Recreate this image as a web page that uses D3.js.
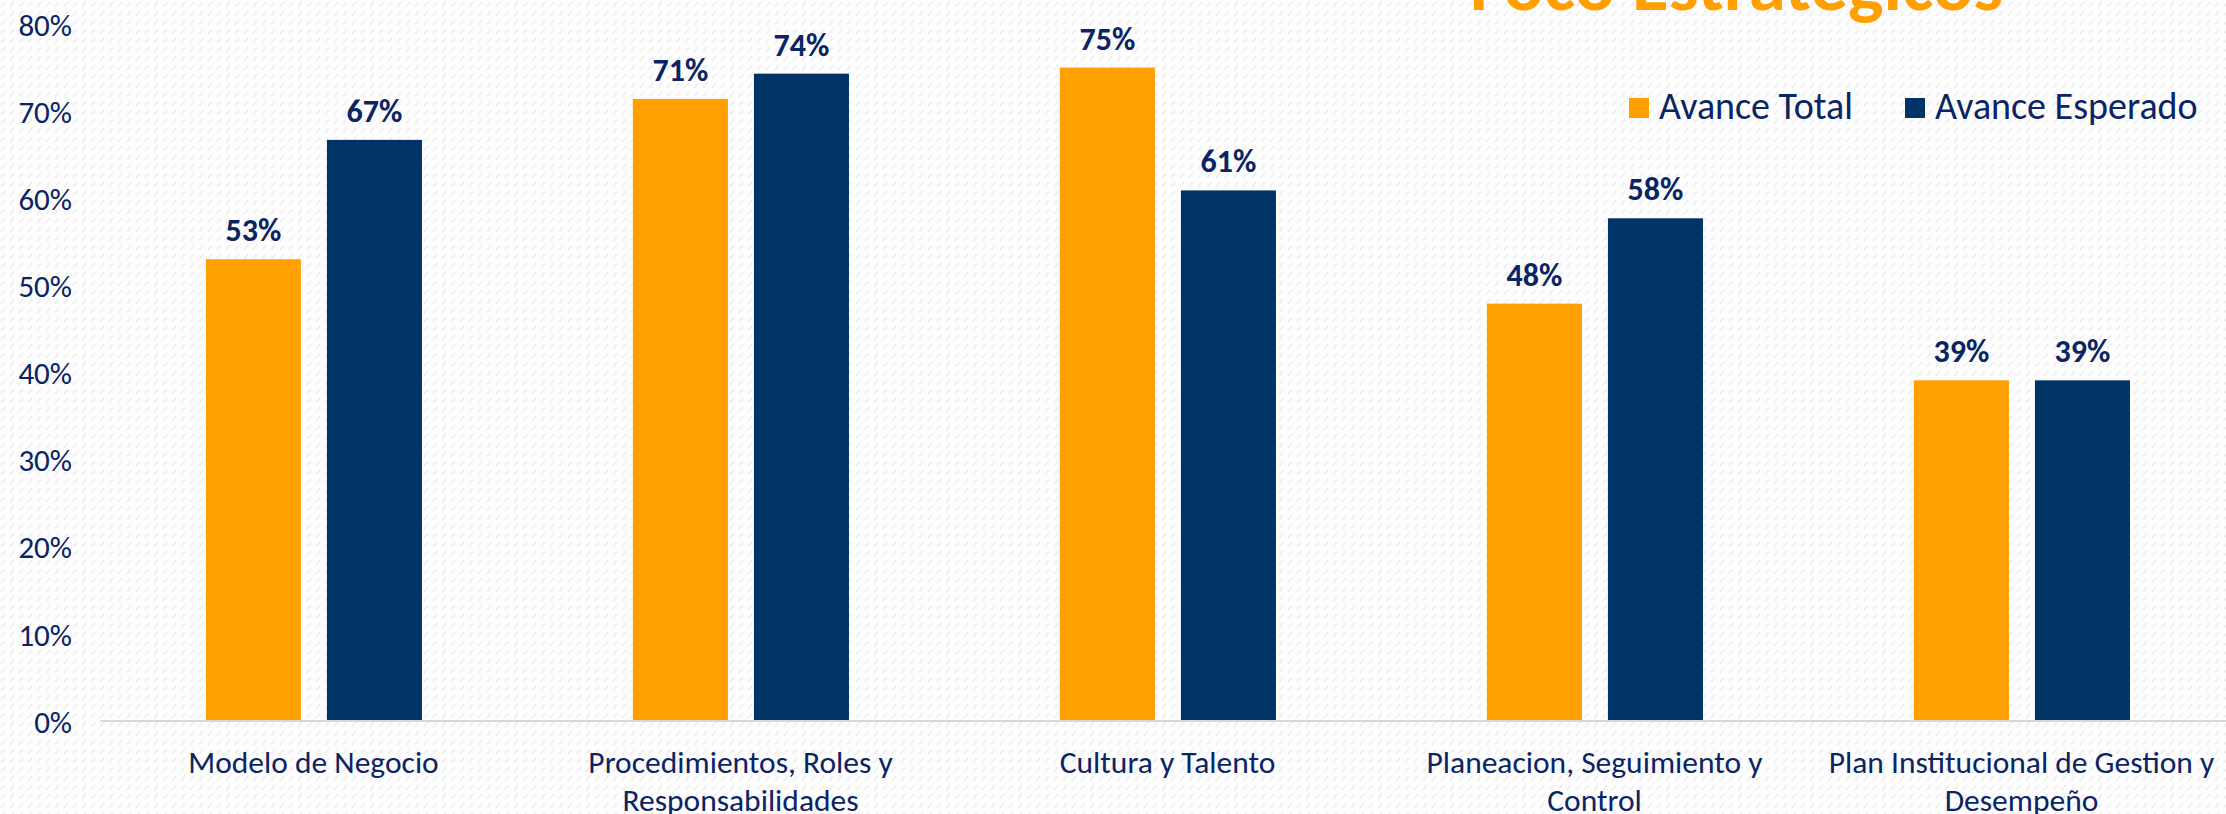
<!DOCTYPE html>
<html>
<head>
<meta charset="utf-8">
<script src="https://cdn.jsdelivr.net/npm/d3@7"></script>
<style>
  html, body { margin: 0; padding: 0; background: #ffffff; overflow: hidden; }
  text { font-family: Calibri, Carlito, Lato, "Open Sans", sans-serif; }
</style>
</head>
<body>
<div id="chart"></div>
<script>
var categories = [
    "Modelo de Negocio",
    "Procedimientos, Roles y Responsabilidades",
    "Cultura y Talento",
    "Planeacion, Seguimiento y Control",
    "Plan Institucional de Gestion y Desempeño"
];
var seriesNames = ["Avance Total", "Avance Esperado"];
var avanceTotal = [0.53, 0.714, 0.75, 0.479, 0.391];
var avanceEsperado = [0.667, 0.743, 0.609, 0.577, 0.391];
var yTicks = [0, 0.1, 0.2, 0.3, 0.4, 0.5, 0.6, 0.7, 0.8];
var title = "Foco Estrategicos";

(function() {
    var width = 2226,
        height = 814,
        orange = "#ffa000",
        navy = "#003466",
        textNavy = "#0b2463";

    var svg = d3.select("#chart")
        .append("svg")
        .attr("width", width)
        .attr("height", height);

    // faint diagonal dash background
    var pat = svg.append("defs").append("pattern")
        .attr("id", "bg")
        .attr("patternUnits", "userSpaceOnUse")
        .attr("width", 9)
        .attr("height", 9);
    pat.append("rect").attr("width", 9).attr("height", 9).attr("fill", "#fdfdfd");
    pat.append("line")
        .attr("x1", 1).attr("y1", 7).attr("x2", 5).attr("y2", 2)
        .attr("stroke", "#eeeeee").attr("stroke-width", 1.6);
    svg.append("rect").attr("width", width).attr("height", height).attr("fill", "url(#bg)");

    var data = categories.map((c, i) => ({
        cat: c,
        values: [avanceTotal[i], avanceEsperado[i]]
    }));

    var x0 = d3.scaleBand()
        .domain(categories)
        .range([100, 100 + 427 * categories.length]);

    var x1 = d3.scaleBand()
        .domain(seriesNames)
        .range([x0.bandwidth() * 0.248, x0.bandwidth() * 0.754])
        .paddingInner(0.215);

    var y = d3.scaleLinear()
        .domain([0, 0.8])
        .range([721, 24]);

    var color = d3.scaleOrdinal().domain(seriesNames).range([orange, navy]);

    // y axis labels
    var yAxis = svg.append("g")
        .attr("transform", "translate(72,0)")
        .call(d3.axisLeft(y).tickValues(yTicks).tickFormat(d3.format(".0%")).tickSize(0).tickPadding(0));
    yAxis.select(".domain").remove();
    yAxis.selectAll("text")
        .attr("fill", textNavy)
        .style("font-size", "31px")
        .attr("dy", "0.36em");

    // bars
    var groups = svg.selectAll(".group")
        .data(data)
        .enter().append("g")
        .attr("class", "group")
        .attr("transform", d => "translate(" + x0(d.cat) + ",0)");

    groups.selectAll("rect")
        .data(d => d.values.map((v, i) => ({ key: seriesNames[i], value: v })))
        .enter().append("rect")
        .attr("x", d => x1(d.key))
        .attr("y", d => y(d.value))
        .attr("width", x1.bandwidth())
        .attr("height", d => y(0) - y(d.value))
        .attr("fill", d => color(d.key));

    groups.selectAll(".val")
        .data(d => d.values.map((v, i) => ({ key: seriesNames[i], value: v })))
        .enter().append("text")
        .attr("class", "val")
        .attr("x", d => x1(d.key) + x1.bandwidth() / 2)
        .attr("y", d => y(d.value) - 18)
        .attr("text-anchor", "middle")
        .attr("fill", textNavy)
        .style("font-size", "32px")
        .style("font-weight", "bold")
        .text(d => d3.format(".0%")(d.value));

    // baseline
    svg.append("line")
        .attr("x1", x0.range()[0])
        .attr("x2", width)
        .attr("y1", y(0))
        .attr("y2", y(0))
        .attr("stroke", "#d9d9d9")
        .attr("stroke-width", 2);

    // category labels, wrapped to band width
    var labels = svg.selectAll(".cat")
        .data(categories)
        .enter().append("text")
        .attr("class", "cat")
        .attr("x", d => x0(d) + x0.bandwidth() / 2)
        .attr("y", 773)
        .attr("text-anchor", "middle")
        .attr("fill", textNavy)
        .style("font-size", "31.5px");

    labels.each(function(d) {
        var el = d3.select(this),
            words = d.split(" "),
            line = [],
            tspan = el.append("tspan").attr("x", el.attr("x")).attr("dy", 0);
        words.forEach(w => {
            line.push(w);
            tspan.text(line.join(" "));
            if (tspan.node().getComputedTextLength() > x0.bandwidth() - 10 && line.length > 1) {
                line.pop();
                tspan.text(line.join(" "));
                line = [w];
                tspan = el.append("tspan").attr("x", el.attr("x")).attr("dy", 38).text(w);
            }
        });
    });

    // legend
    var legend = svg.selectAll(".legend")
        .data(seriesNames)
        .enter().append("g")
        .attr("class", "legend")
        .attr("transform", (d, i) => "translate(" + (i == 0 ? 1629 : 1905) + ",98)");
    legend.append("rect")
        .attr("width", 20)
        .attr("height", 20)
        .attr("fill", d => color(d));
    legend.append("text")
        .attr("x", 30)
        .attr("y", 21)
        .attr("fill", textNavy)
        .style("font-size", "38px")
        .text(d => d);

    // title, partly cut at the top
    svg.append("text")
        .attr("x", 1470)
        .attr("y", 10)
        .attr("fill", orange)
        .style("font-size", "75px")
        .style("font-weight", "bold")
        .text(title);
})();
</script>
</body>
</html>
